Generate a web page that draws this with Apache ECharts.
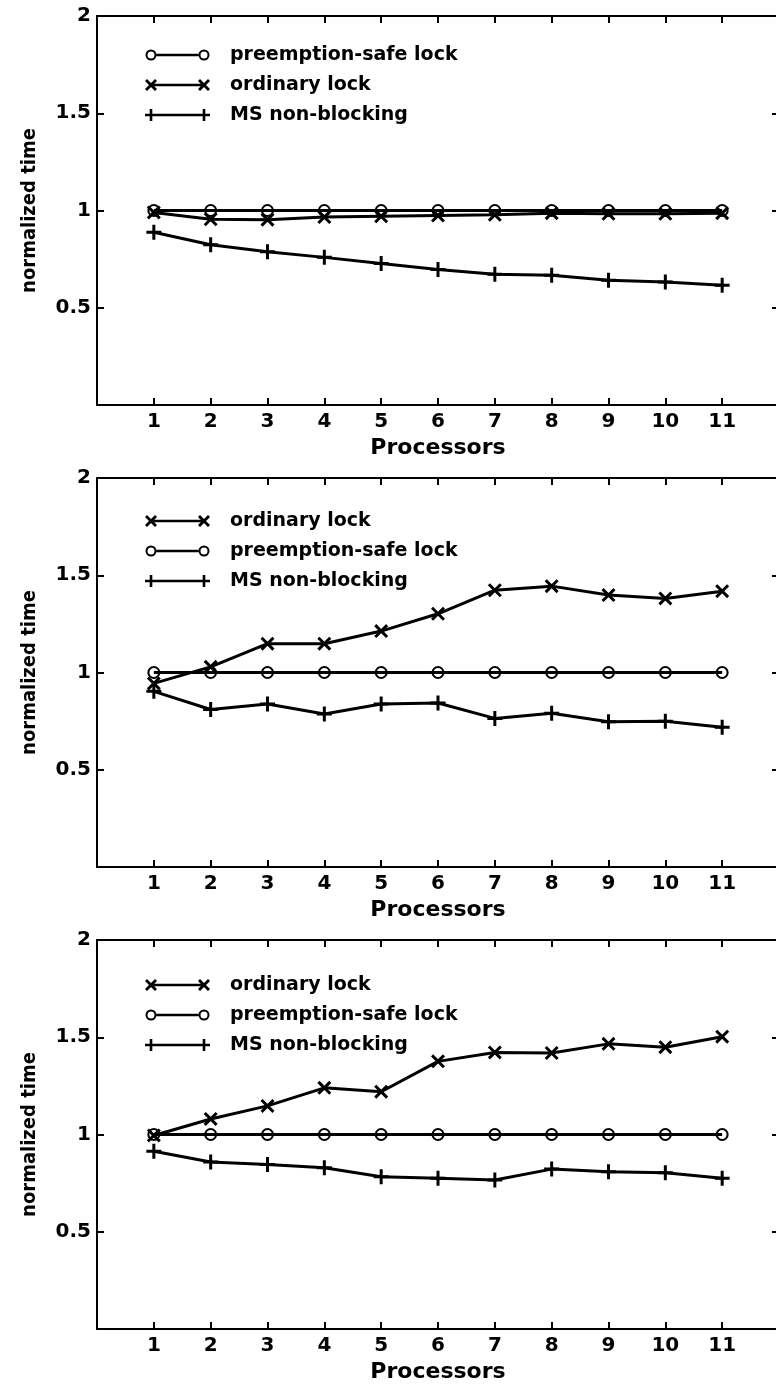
<!DOCTYPE html>
<html>
<head>
<meta charset="utf-8">
<script src="https://cdn.jsdelivr.net/npm/echarts@6/dist/echarts.min.js"></script>
<style>html,body{margin:0;padding:0;background:#fff;overflow:hidden}#c{width:800px;height:1388px}</style>
</head>
<body>
<div id="c"></div>
<script>
// ---- data ----
const processors = [1, 2, 3, 4, 5, 6, 7, 8, 9, 10, 11];
const xName = 'Processors';
const yName = 'normalized time';

const p1Preempt  = [1.0, 1.0, 1.0, 1.0, 1.0, 1.0, 1.0, 1.0, 1.0, 1.0, 1.0];
const p1Ordinary = [0.99, 0.955, 0.953, 0.966, 0.97, 0.974, 0.978, 0.986, 0.983, 0.983, 0.986];
const p1MS       = [0.888, 0.824, 0.788, 0.759, 0.728, 0.697, 0.672, 0.667, 0.641, 0.633, 0.616];

const p2Ordinary = [0.944, 1.029, 1.148, 1.148, 1.213, 1.302, 1.423, 1.444, 1.398, 1.381, 1.418];
const p2Preempt  = [1.0, 1.0, 1.0, 1.0, 1.0, 1.0, 1.0, 1.0, 1.0, 1.0, 1.0];
const p2MS       = [0.903, 0.81, 0.838, 0.787, 0.838, 0.843, 0.764, 0.79, 0.747, 0.749, 0.718];

const p3Ordinary = [0.995, 1.08, 1.147, 1.24, 1.22, 1.376, 1.422, 1.419, 1.466, 1.449, 1.503];
const p3Preempt  = [1.0, 1.0, 1.0, 1.0, 1.0, 1.0, 1.0, 1.0, 1.0, 1.0, 1.0];
const p3MS       = [0.914, 0.859, 0.846, 0.829, 0.783, 0.775, 0.766, 0.822, 0.808, 0.803, 0.775];

const legendOrder1 = ['preemption-safe lock', 'ordinary lock', 'MS non-blocking'];
const legendOrder2 = ['ordinary lock', 'preemption-safe lock', 'MS non-blocking'];
const legendOrder3 = ['ordinary lock', 'preemption-safe lock', 'MS non-blocking'];

// ---- styling ----
const FONT = '"DejaVu Sans", "Liberation Sans", Arial, sans-serif';
const NARROW = '"DejaVu Sans Condensed", "Liberation Sans Narrow", "Liberation Sans", Arial, sans-serif';
const RING = 'path://M0,6A6,6 0 1,1 12,6A6,6 0 1,1 0,6ZM1.9,6A4.1,4.1 0 1,0 10.1,6A4.1,4.1 0 1,0 1.9,6Z';
const XMARK = 'path://M0,1.8L1.8,0L12,10.2L10.2,12ZM0,10.2L10.2,0L12,1.8L1.8,12Z';
const PLUS = 'path://M4.8,0H7.2V4.8H12V7.2H7.2V12H4.8V7.2H0V4.8H4.8Z';

const symbolOf = {
  'preemption-safe lock': {symbol: RING, size: 13},
  'ordinary lock': {symbol: XMARK, size: 14},
  'MS non-blocking': {symbol: PLUS, size: 15}
};
// legend icons: marker - line - marker, 65 x 12 box
const legendIcon = {
  'preemption-safe lock': 'path://M0.5,6A5.5,5.5 0 1,1 11.5,6A5.5,5.5 0 1,1 0.5,6ZM2.5,6A3.5,3.5 0 1,0 9.5,6A3.5,3.5 0 1,0 2.5,6ZM11.5,4.7H53.5V7.3H11.5ZM53.5,6A5.5,5.5 0 1,1 64.5,6A5.5,5.5 0 1,1 53.5,6ZM55.5,6A3.5,3.5 0 1,0 62.5,6A3.5,3.5 0 1,0 55.5,6ZM0,0H0.01V0.01H0ZM64.99,11.99H65V12H64.99Z',
  'ordinary lock': 'path://M0,2L2,0L12,10L10,12ZM0,10L10,0L12,2L2,12ZM6,4.7H59V7.3H6ZM53,2L55,0L65,10L63,12ZM53,10L63,0L65,2L55,12Z',
  'MS non-blocking': 'path://M0,4.7H65V7.3H0ZM4.7,0H7.3V12H4.7ZM57.7,0H60.3V12H57.7Z'
};

const panelTops = [16, 478, 940];
const panelHeight = 389;
const gridLeft = 97;
const gridWidth = 682;
const legendTops = [45, 511, 975];

const panels = [
  {order: legendOrder1, data: {'preemption-safe lock': p1Preempt, 'ordinary lock': p1Ordinary, 'MS non-blocking': p1MS}},
  {order: legendOrder2, data: {'preemption-safe lock': p2Preempt, 'ordinary lock': p2Ordinary, 'MS non-blocking': p2MS}},
  {order: legendOrder3, data: {'preemption-safe lock': p3Preempt, 'ordinary lock': p3Ordinary, 'MS non-blocking': p3MS}}
];

const grid = [], xAxis = [], yAxis = [], series = [], legend = [];
const lineStyleAxis = {color: '#000', width: 2};
const tickStyle = {show: true, inside: true, length: 7, lineStyle: {color: '#000', width: 2}};
const labelStyle = {color: '#000', fontFamily: FONT, fontWeight: 'bold', fontSize: 20};

panels.forEach((p, i) => {
  grid.push({left: gridLeft, top: panelTops[i], width: gridWidth, height: panelHeight, containLabel: false});
  xAxis.push({
    type: 'value', gridIndex: i, min: 0, max: 12, interval: 1, position: 'bottom',
    name: xName, nameLocation: 'middle', nameGap: 32,
    nameTextStyle: {color: '#000', fontFamily: FONT, fontWeight: 'bold', fontSize: 22},
    axisLine: {show: true, onZero: false, lineStyle: lineStyleAxis},
    axisTick: tickStyle, splitLine: {show: false},
    axisLabel: Object.assign({margin: 7, formatter: v => (v >= 1 && v <= 11) ? String(v) : ''}, labelStyle)
  });
  xAxis.push({
    type: 'value', gridIndex: i, min: 0, max: 12, interval: 1, position: 'top',
    axisLine: {show: true, onZero: false, lineStyle: lineStyleAxis},
    axisTick: tickStyle, splitLine: {show: false}, axisLabel: {show: false}
  });
  yAxis.push({
    type: 'value', gridIndex: i, min: 0, max: 2, interval: 0.5, position: 'left',
    name: yName, nameLocation: 'middle', nameGap: 57, nameRotate: 90,
    nameTextStyle: {color: '#000', fontFamily: NARROW, fontWeight: 'bold', fontSize: 20},
    axisLine: {show: true, onZero: false, lineStyle: lineStyleAxis},
    axisTick: tickStyle, splitLine: {show: false},
    axisLabel: Object.assign({margin: 6, formatter: v => v === 0 ? '' : String(v)}, labelStyle)
  });
  yAxis.push({
    type: 'value', gridIndex: i, min: 0, max: 2, interval: 0.5, position: 'right',
    axisLine: {show: true, onZero: false, lineStyle: lineStyleAxis},
    axisTick: tickStyle, splitLine: {show: false}, axisLabel: {show: false}
  });
  p.order.forEach(name => {
    const vals = p.data[name];
    series.push({
      type: 'line', name: name, xAxisIndex: i * 2, yAxisIndex: i * 2,
      data: processors.map((x, k) => [x, vals[k]]),
      symbol: symbolOf[name].symbol, symbolSize: symbolOf[name].size,
      showAllSymbol: true,
      lineStyle: {color: '#000', width: 3},
      itemStyle: {color: '#000'},
      emphasis: {disabled: true},
      z: 3
    });
  });
  legend.push({
    left: 145, top: legendTops[i], orient: 'vertical', padding: 0,
    itemWidth: 65, itemHeight: 12, itemGap: 10,
    selectedMode: false,
    data: p.order.map(n => ({name: n, icon: legendIcon[n]})),
    textStyle: {color: '#000', fontFamily: FONT, fontWeight: 'bold', fontSize: 19, lineHeight: 20, padding: [0, 0, 0, 15]}
  });
});

const chart = echarts.init(document.getElementById('c'), null, {renderer: 'canvas'});
chart.setOption({
  animation: false,
  backgroundColor: '#fff',
  grid, xAxis, yAxis, series, legend
});
</script>
</body>
</html>
